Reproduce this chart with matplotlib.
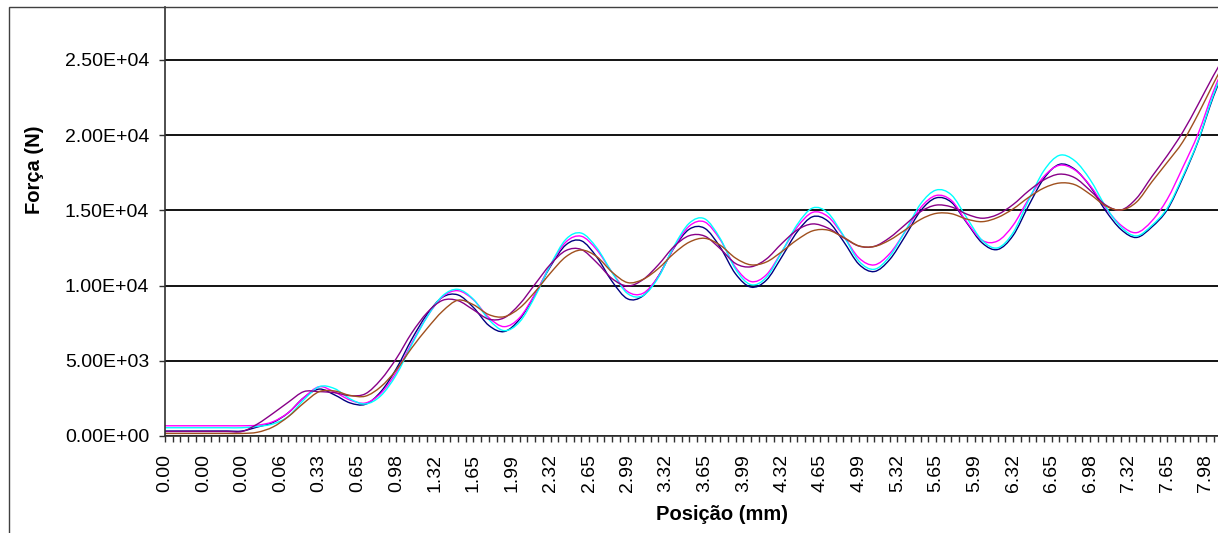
import matplotlib
matplotlib.use("Agg")
import matplotlib.pyplot as plt
import numpy as np
from matplotlib.patches import Rectangle, PathPatch
from matplotlib.path import Path
from matplotlib.ticker import FuncFormatter

plt.rcParams['font.family'] = ['Liberation Sans', 'DejaVu Sans']

# Category labels (one label every 5 categories)
x_labels = ["0.00", "0.00", "0.00", "0.06", "0.33", "0.65", "0.98", "1.32", "1.65", "1.99",
            "2.32", "2.65", "2.99", "3.32", "3.65", "3.99", "4.32", "4.65", "4.99", "5.32",
            "5.65", "5.99", "6.32", "6.65", "6.98", "7.32", "7.65", "7.98"]

# Series values (N), read at every 2nd category (last value just past the right edge)
navy = [330, 330, 330, 330, 330, 330, 600, 900, 1550, 2550, 3120, 2730, 2200, 2110, 2950, 4470,
        6430, 8100, 9230, 9380, 8550, 7350, 6945, 7770, 9410, 11280, 12710, 12980, 11900, 10270,
        9120, 9320, 10630, 12490, 13750, 13810, 12560, 10780, 9900, 10360, 11910, 13580, 14580,
        14280, 12940, 11420, 10935, 11735, 13290, 14970, 15830, 15540, 14170, 12830, 12400, 13330,
        15300, 17130, 18060, 17735, 16590, 14980, 13730, 13200, 13900, 15050, 17150, 19600, 22600,
        25100]
magenta = [680, 680, 680, 680, 680, 680, 720, 950, 1550, 2550, 3275, 2920, 2390, 2195, 2840, 4240,
           6170, 7940, 9260, 9660, 9060, 7870, 7270, 7870, 9450, 11360, 12900, 13280, 12380, 10870,
           9600, 9490, 10620, 12520, 13960, 14230, 13060, 11210, 10270, 10720, 12250, 13890, 14870,
           14580, 13300, 11840, 11375, 12130, 13590, 15180, 15990, 15660, 14220, 13010, 12970, 14010,
           15750, 17260, 18000, 17690, 16640, 15160, 14010, 13520, 14300, 15750, 17850, 20100, 22950,
           25300]
cyan = [550, 550, 550, 550, 550, 550, 640, 800, 1300, 2400, 3280, 3150, 2470, 2130, 2680, 4070,
        6070, 7920, 9320, 9750, 9090, 7740, 7005, 7590, 9280, 11380, 13080, 13490, 12510, 10860,
        9470, 9340, 10550, 12600, 14150, 14440, 13140, 11090, 10060, 10550, 12240, 14060, 15160,
        14820, 13320, 11630, 11085, 11950, 13620, 15430, 16350, 16030, 14500, 13000, 12510, 13520,
        15660, 17650, 18660, 18300, 17040, 15260, 13890, 13300, 14000, 15150, 17250, 19650, 22700,
        25160]
purple = [300, 300, 300, 300, 300, 300, 800, 1500, 2250, 2950, 2950, 2880, 2680, 2810, 3750, 5150,
          6850, 8200, 9020, 9000, 8390, 7770, 7860, 8770, 10100, 11420, 12330, 12400, 11530, 10460,
          9975, 10400, 11390, 12590, 13320, 13290, 12460, 11470, 11250, 11770, 12800, 13700, 14100,
          13820, 13190, 12630, 12610, 13190, 14050, 14920, 15350, 15230, 14750, 14480, 14730, 15390,
          16290, 17030, 17410, 17170, 16320, 15360, 15030, 15800, 17250, 18650, 20200, 22050, 23980,
          25750]
brown = [170, 170, 170, 170, 170, 170, 250, 600, 1290, 2190, 2950, 2990, 2700, 2650, 3280, 4390,
         5850, 7150, 8300, 9030, 8730, 8070, 7930, 8510, 9590, 10840, 11920, 12365, 11925, 10890,
         10200, 10415, 11140, 12135, 12890, 13145, 12690, 11830, 11380, 11570, 12260, 13050, 13640,
         13690, 13210, 12640, 12600, 13030, 13700, 14400, 14800, 14780, 14420, 14250, 14530, 15100,
         15860, 16490, 16820, 16710, 16070, 15300, 15030, 15550, 16900, 18200, 19550, 21400, 23450,
         25400]

y_ticks = [0, 5000, 10000, 15000, 20000, 25000]


def smooth_path(xs, ys):
    """Excel-style 'smoothed line': cubic Bezier segments through every data point."""
    p = np.column_stack([xs, ys]).astype(float)
    n = len(p)
    verts = [p[0]]
    codes = [Path.MOVETO]
    for i in range(n - 1):
        p0 = p[i - 1] if i > 0 else p[i]
        p1, p2 = p[i], p[i + 1]
        p3 = p[i + 2] if i + 2 < n else p[i + 1]
        c1 = p1 + (p2 - p0) / 6.0
        c2 = p2 - (p3 - p1) / 6.0
        verts += [c1, c2, p2]
        codes += [Path.CURVE4] * 3
    return Path(verts, codes)


W, H = 1218, 533
fig = plt.figure(figsize=(W / 100, H / 100), dpi=100)
fig.patch.set_facecolor('white')

left_px, right_px, top_px, bottom_px = 165, 1218, 7, 436
ax = fig.add_axes([left_px / W, 1 - bottom_px / H, (right_px - left_px) / W, (bottom_px - top_px) / H])

step = 2  # samples taken every 2nd category
cats = np.arange(len(navy)) * step
series = [(navy, '#000080'), (magenta, '#FF00FF'), (cyan, '#00FFFF'),
          (purple, '#880088'), (brown, '#A0501E')]
for vals, col in series:
    ax.add_patch(PathPatch(smooth_path(cats, vals), fill=False, edgecolor=col,
                           linewidth=1.0, zorder=2))

px_per_cat = 7.71
ax.set_xlim(0, (right_px - left_px) / px_per_cat)
n_per_px = 25000 / (436 - 60)
ax.set_ylim(0, (bottom_px - top_px) * n_per_px)

n_cat = int((right_px - left_px) / px_per_cat) + 1
tick_pos = np.arange(n_cat)
tick_lab = [x_labels[i // 5] if (i % 5 == 0 and i // 5 < len(x_labels)) else '' for i in tick_pos]
ax.set_xticks(tick_pos)
ax.set_xticklabels(tick_lab, rotation=90, fontsize=14)
ax.tick_params(axis='x', length=4.5, width=1.0, color='#303030', pad=8.5)

ax.set_yticks(y_ticks)
ax.yaxis.set_major_formatter(FuncFormatter(lambda v, p: f"{v:.2E}"))
ax.tick_params(axis='y', length=4.5, width=1.0, color='#303030', labelsize=14, pad=7)

ax.yaxis.grid(True, color='black', linewidth=1.3)
ax.set_axisbelow(True)

for s in ['top', 'right']:
    ax.spines[s].set_visible(False)
for s in ['left', 'bottom']:
    ax.spines[s].set_color('#303030')
    ax.spines[s].set_linewidth(1.2)

fig.text(35 / W, 1 - 170 / H, 'Força (N)', rotation=90, ha='center', va='center',
         fontsize=14.5, fontweight='bold')
fig.text(722 / W, 1 - 515 / H, 'Posição (mm)', ha='center', va='center',
         fontsize=14.5, fontweight='bold')

fig.patches.append(Rectangle((9 / W, -0.2), 1.2, 1.2 - 7 / H, transform=fig.transFigure,
                             fill=False, edgecolor='#404040', linewidth=1.0, clip_on=False))

fig.savefig('out.png', dpi=100)
